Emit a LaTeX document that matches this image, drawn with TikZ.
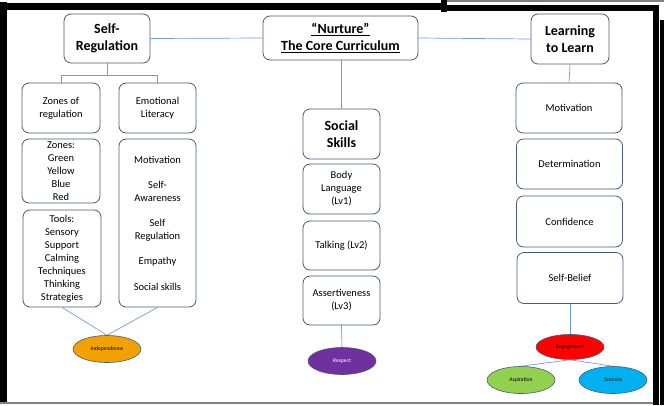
\documentclass[tikz,border=0pt]{standalone}
\usepackage{fontspec}
\setmainfont{Carlito}
\usepackage{tikz}
\usetikzlibrary{calc, shapes}

\definecolor{boxline}{HTML}{4A5A78}
\definecolor{linkblue}{HTML}{6F9BE0}
\definecolor{indepfill}{HTML}{F2A200}
\definecolor{respectfill}{HTML}{7030A0}
\definecolor{engagefill}{HTML}{FF0000}
\definecolor{aspirefill}{HTML}{92D050}
\definecolor{successfill}{HTML}{00B0F0}

\begin{document}
\begin{tikzpicture}[x=1pt, y=-1pt,
    box/.style={draw=boxline, line width=0.8pt, rounded corners=7pt, fill=white,
      align=center, inner sep=0pt, font=\fontsize{10.5}{13}\selectfont},
    head/.style={box, font=\fontsize{14}{16.5}\selectfont\bfseries},
    bubble/.style={ellipse, draw=boxline, line width=0.6pt, inner sep=0pt,
      minimum width=68pt, minimum height=27pt, font=\fontsize{5.6}{6}\selectfont},
    link/.style={draw=linkblue, line width=0.7pt}]
        \useasboundingbox (0,0) rectangle (664,405);
        % screenshot frame
        \fill[black] (0,2) rectangle (7,403);
        \fill[black] (0,3) rectangle (447,10);
        \fill[black] (441,0) rectangle (447,12);
        \fill[gray] (447,0) rectangle (664,1.5);
        \fill[black] (441,5) rectangle (659,11);
        \fill[black] (653,5) rectangle (659,405);
        \fill[black] (660,20) rectangle (664,405);
        \fill[gray] (0,402) rectangle (653,404);

        % top row
        \node[head, minimum width=86pt, minimum height=49pt] (selfreg) at (107,38.5) {Self-\\Regulation};
        \node[head, minimum width=155pt, minimum height=44pt] (nurture) at (340.5,38)
          {\underline{“Nurture”}\\\underline{The Core Curriculum}};
        \node[head, minimum width=78pt, minimum height=50pt] (learn) at (570,39) {Learning\\to Learn};

        % self-regulation column
        \node[box, minimum width=78pt, minimum height=50pt] (zonesreg) at (61,108) {Zones of\\regulation};
        \node[box, minimum width=77pt, minimum height=50pt] (emolit) at (157.5,108) {Emotional\\Literacy};
        \node[box, minimum width=78pt, minimum height=64pt] (zones) at (61,171) {Zones:\\Green\\Yellow\\Blue\\Red};
        \node[box, minimum width=78pt, minimum height=97pt] (tools) at (62,258.5)
          {Tools:\\Sensory\\Support\\Calming\\Techniques\\Thinking\\Strategies};
        \node[box, minimum width=77pt, minimum height=168pt] (emolist) at (157.5,223)
          {Motivation\\[12pt]Self-\\Awareness\\[12pt]Self\\Regulation\\[12pt]Empathy\\[13pt]Social skills};
        \node[bubble, fill=indepfill] (indep) at (107,349) {Independence};

        % social skills column
        \node[head, minimum width=77pt, minimum height=50pt] (social) at (341.5,134) {Social\\Skills};
        \node[box, minimum width=77pt, minimum height=50pt] (body) at (341.5,189) {Body\\Language\\(Lv1)};
        \node[box, minimum width=77pt, minimum height=49pt] (talk) at (341.5,245.5) {Talking (Lv2)};
        \node[box, minimum width=77pt, minimum height=49pt] (assert) at (341.5,300.5) {Assertiveness\\(Lv3)};
        \node[bubble, fill=respectfill, text=white] (respect) at (342,361) {Respect};

        % learning to learn column
        \node[box, minimum width=106pt, minimum height=50pt] (motiv) at (569,108) {Motivation};
        \node[box, minimum width=106pt, minimum height=50pt] (determ) at (569.5,164) {Determination};
        \node[box, minimum width=106pt, minimum height=51pt] (confid) at (569.5,221.5) {Confidence};
        \node[box, minimum width=106pt, minimum height=51pt] (belief) at (570,278) {Self-Belief};
        \node[bubble, fill=engagefill, minimum height=25pt] (engage) at (570,347) {Engagement};
        \node[bubble, fill=aspirefill] (aspire) at (521,380) {Aspiration};
        \node[bubble, fill=successfill] (success) at (613,380) {Success};

        % connectors
        \path[link] (selfreg.east) -- (nurture.west);
        \path[link] (nurture.east) -- (learn.west);
        \path[link] (selfreg.south) -- ++(0,12) -| (zonesreg.north);
        \path[link] (selfreg.south) -- ++(0,12) -| (emolit.north);
        \path[link] (tools.south) -- (indep.north);
        \path[link] (emolist.south) -- (indep.north);
        \path[link] (nurture.south -| social.north) -- (social.north);
        \path[link] (assert.south) -- (respect.north);
        \path[link] (learn.south) -- (motiv.north);
        \path[link] (belief.south) -- (engage.north);
        \path[link] (engage.south) -- (aspire.north);
        \path[link] (engage.south) -- (success.north);
      \end{tikzpicture}
\end{document}
